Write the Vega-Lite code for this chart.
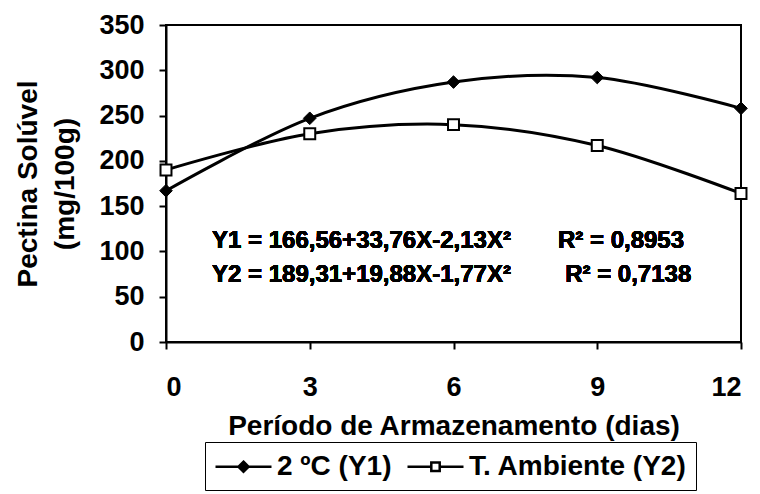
{
  "$schema": "https://vega.github.io/schema/vega-lite/v6.json",
  "width": 575,
  "height": 317,
  "autosize": {"type": "none"},
  "padding": {"left": 166, "top": 25, "right": 19, "bottom": 152},
  "background": "white",
  "config": {
    "font": "Liberation Sans",
    "view": {"stroke": "black", "strokeWidth": 2},
    "axis": {
      "domainColor": "black",
      "domainWidth": 2,
      "tickColor": "black",
      "tickWidth": 2,
      "tickSize": 7,
      "grid": false,
      "labelFont": "Liberation Sans",
      "labelFontWeight": "bold",
      "labelColor": "black",
      "labelFontSize": 27,
      "titleFont": "Liberation Sans",
      "titleFontWeight": "bold",
      "titleColor": "black",
      "titleFontSize": 28
    }
  },
  "data": {
    "values": [
      {"dia": 0, "valor": 167, "serie": "2 ºC (Y1)"},
      {"dia": 3, "valor": 247, "serie": "2 ºC (Y1)"},
      {"dia": 6, "valor": 287, "serie": "2 ºC (Y1)"},
      {"dia": 9, "valor": 292, "serie": "2 ºC (Y1)"},
      {"dia": 12, "valor": 258, "serie": "2 ºC (Y1)"},
      {"dia": 0, "valor": 190, "serie": "T. Ambiente (Y2)"},
      {"dia": 3, "valor": 230, "serie": "T. Ambiente (Y2)"},
      {"dia": 6, "valor": 240, "serie": "T. Ambiente (Y2)"},
      {"dia": 9, "valor": 217, "serie": "T. Ambiente (Y2)"},
      {"dia": 12, "valor": 164, "serie": "T. Ambiente (Y2)"}
    ]
  },
  "encoding": {
    "x": {
      "field": "dia",
      "type": "quantitative",
      "scale": {"domain": [0, 12], "nice": false},
      "axis": {"values": [0, 3, 6, 9, 12], "labelPadding": 25, "title": "Período de Armazenamento (dias)", "titlePadding": 12}
    },
    "y": {
      "field": "valor",
      "type": "quantitative",
      "scale": {"domain": [0, 350], "nice": false},
      "axis": {"values": [0, 50, 100, 150, 200, 250, 300, 350], "labelPadding": 15, "title": ["Pectina Solúvel", "(mg/100g)"], "titlePadding": 19, "titleLineHeight": 37}
    }
  },
  "layer": [
    {
      "mark": {"type": "line", "interpolate": "cardinal", "strokeWidth": 3, "color": "black"},
      "encoding": {"detail": {"field": "serie"}}
    },
    {
      "transform": [{"filter": "datum.serie === '2 ºC (Y1)'"}],
      "mark": {"type": "point", "shape": "diamond", "filled": true, "fill": "black", "stroke": "black", "strokeWidth": 1, "opacity": 1, "size": 160},
      "encoding": {}
    },
    {
      "transform": [{"filter": "datum.serie === 'T. Ambiente (Y2)'"}],
      "mark": {"type": "point", "shape": "square", "filled": true, "fill": "white", "stroke": "black", "strokeWidth": 2, "opacity": 1, "size": 120},
      "encoding": {}
    },
    {
      "transform": [{"filter": "datum.dia < 0"}],
      "mark": {"type": "point", "filled": true, "strokeWidth": 2.5, "opacity": 1},
      "encoding": {
        "shape": {
          "field": "serie",
          "type": "nominal",
          "scale": {"domain": ["2 ºC (Y1)", "T. Ambiente (Y2)"], "range": ["M-1,0H3M1,-0.36L1.36,0L1,0.36L0.64,0Z", "M-1,0H0.7M1.3,0H3M0.7,-0.3H1.3V0.3H0.7Z"]},
          "legend": {
            "orient": "none",
            "legendX": 39,
            "legendY": 417,
            "direction": "horizontal",
            "title": null,
            "strokeColor": "black",
            "padding": 9,
            "labelFontSize": 28,
            "labelFont": "Liberation Sans",
            "labelFontWeight": "bold",
            "labelColor": "black",
            "labelLimit": 0,
            "symbolSize": 784,
            "symbolStrokeWidth": 2.5,
            "symbolStrokeColor": "black",
            "symbolOpacity": 1,
            "labelOffset": 32,
            "columnPadding": 10
          }
        },
        "fill": {
          "field": "serie",
          "type": "nominal",
          "scale": {"domain": ["2 ºC (Y1)", "T. Ambiente (Y2)"], "range": ["black", "white"]},
          "legend": {"title": null}
        },
        "stroke": {
          "field": "serie",
          "type": "nominal",
          "scale": {"domain": ["2 ºC (Y1)", "T. Ambiente (Y2)"], "range": ["black", "black"]},
          "legend": {"title": null}
        },
        "size": {"value": 784}
      }
    },
    {
      "mark": {"type": "text", "align": "left", "baseline": "middle", "fontSize": 24, "fontWeight": "bold", "font": "Liberation Sans", "color": "black"},
      "encoding": {"x": {"datum": 0.96}, "y": {"datum": 112}, "text": {"value": "Y1 = 166,56+33,76X-2,13X²"}}
    },
    {
      "mark": {"type": "text", "align": "left", "baseline": "middle", "fontSize": 24, "fontWeight": "bold", "font": "Liberation Sans", "color": "black"},
      "encoding": {"x": {"datum": 8.18}, "y": {"datum": 112}, "text": {"value": "R² = 0,8953"}}
    },
    {
      "mark": {"type": "text", "align": "left", "baseline": "middle", "fontSize": 24, "fontWeight": "bold", "font": "Liberation Sans", "color": "black"},
      "encoding": {"x": {"datum": 0.96}, "y": {"datum": 74}, "text": {"value": "Y2 = 189,31+19,88X-1,77X²"}}
    },
    {
      "mark": {"type": "text", "align": "left", "baseline": "middle", "fontSize": 24, "fontWeight": "bold", "font": "Liberation Sans", "color": "black"},
      "encoding": {"x": {"datum": 8.33}, "y": {"datum": 74}, "text": {"value": "R² = 0,7138"}}
    }
  ]
}
